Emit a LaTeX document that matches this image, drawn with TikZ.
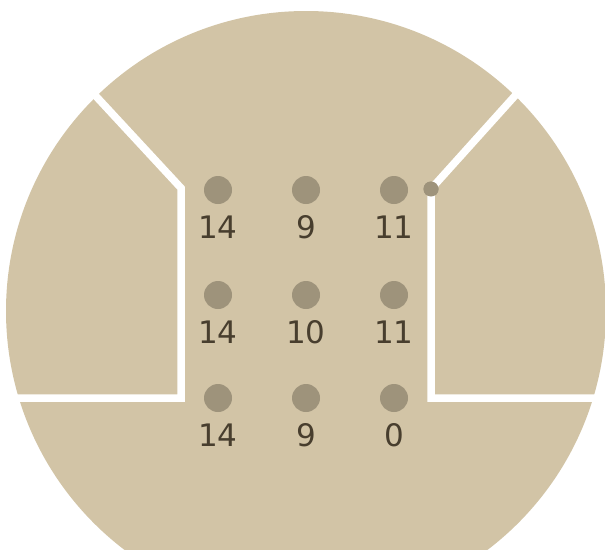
\documentclass[tikz,border=0pt]{standalone}
\usepackage{fontspec}
\setmainfont{DejaVu Sans}
\usetikzlibrary{positioning}
\definecolor{myBeige}{RGB}{210,196,166}
\definecolor{myStone}{RGB}{158,147,123}
\definecolor{myInk}{RGB}{72,62,46}
\tikzset{
	seat/.style={
		circle,
		fill=myStone,
		minimum size=28pt,
		inner sep=0pt
	},
	num/.style={font=\fontsize{31}{34}\selectfont, text=myInk, inner sep=0pt},
	wall/.style={white, line width=7.5pt, line join=miter}
}

\begin{document}
\begin{tikzpicture}[x=1pt, y=-1pt]
	\useasboundingbox (0,0) rectangle (605,549);
	\clip (0,0) rectangle (605,549);
	\fill[myBeige] (306,311) circle (300pt);
	% walls
	\coordinate (lout) at (55,52);
	\coordinate (lbend) at (181,188);
	\coordinate (lfoot) at (181,398);
	\coordinate (lend) at (0,398);
	\coordinate (rout) at (558,48);
	\coordinate (rfoot) at (431,398);
	\coordinate (rend) at (605,398);
	\node[seat, minimum size=15pt] (rbend) at (431,189) {};
	\draw[wall] (lout) -- (lbend) -- (lfoot) -- (lend);
	\draw[wall] (rout) -- (rbend.center) -- (rfoot) -- (rend);
	\node[seat, minimum size=15pt] at (rbend) {};
	% seats with counts
	\foreach \r/\y/\a/\b/\c in {1/190/14/9/11, 2/295/14/10/11, 3/398/14/9/0}{
		\node[seat] (s\r1) at (218,\y) {};
		\node[seat] (s\r2) at (306,\y) {};
		\node[seat] (s\r3) at (394,\y) {};
		\node[num, below=11pt of s\r1] {\a};
		\node[num, below=11pt of s\r2] {\b};
		\node[num, below=11pt of s\r3] {\c};
	}
\end{tikzpicture}
\end{document}
